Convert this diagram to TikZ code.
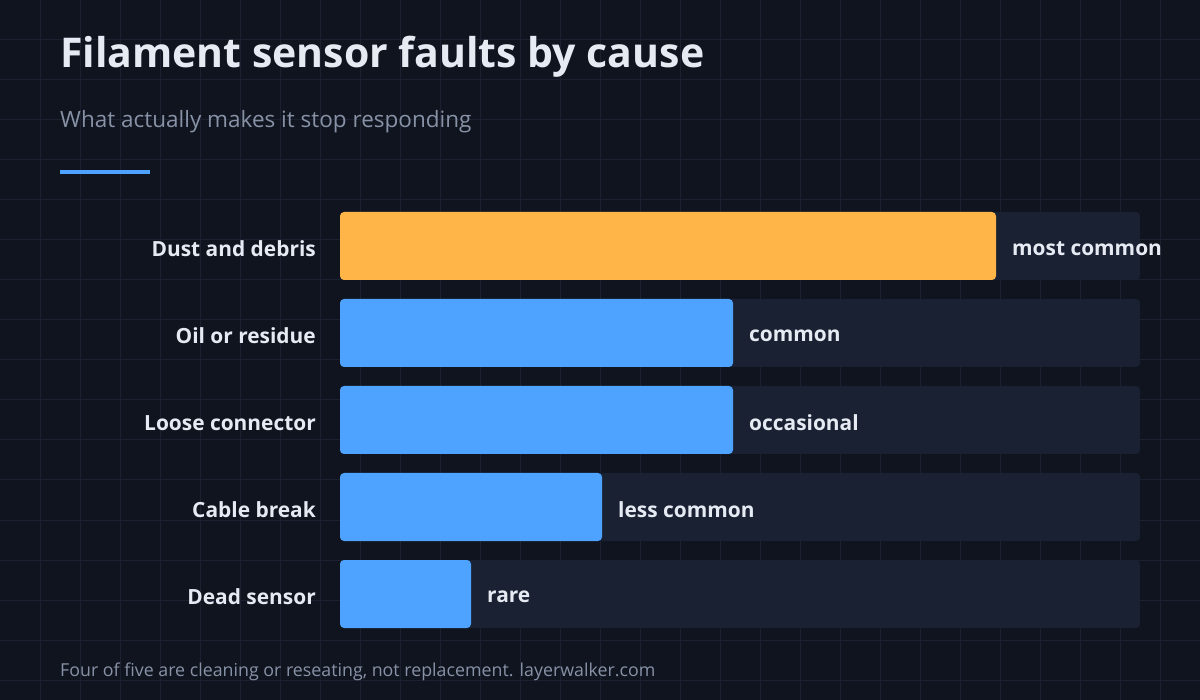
\documentclass[tikz,border=0pt]{standalone}
\usepackage{fontspec}
\setmainfont{Open Sans}
\definecolor{bg}{HTML}{10141F}
\definecolor{gridc}{HTML}{1B2130}
\definecolor{track}{HTML}{1A2133}
\definecolor{orng}{HTML}{FFB547}
\definecolor{blu}{HTML}{4DA3FF}
\definecolor{txt}{HTML}{E6EAF2}
\definecolor{sub}{HTML}{8892A6}
\begin{document}
\begin{tikzpicture}[x=1pt,y=-1pt,
  lab/.style={anchor=east,text=txt,font=\fontsize{20.9}{24}\selectfont\bfseries,inner sep=0},
  val/.style={anchor=west,text=txt,font=\fontsize{20.9}{24}\selectfont\bfseries,inner sep=0},
  trk/.style={fill=track,rounded corners=4pt},
  bar/.style={rounded corners=4pt}]
\fill[bg] (0,0) rectangle (1200,700);
\useasboundingbox (0,0) rectangle (1200,700);
\foreach \i in {40,80,...,1160} \draw[gridc,line width=1pt] (\i,0) -- (\i,700);
\foreach \i in {40,80,...,680} \draw[gridc,line width=1pt] (0,\i) -- (1200,\i);
\node[anchor=west,text=txt,font=\fontsize{41}{48}\selectfont\bfseries,inner sep=0] (title) at (60,57) {Filament sensor faults by cause};
\node[anchor=west,text=sub,font=\fontsize{22.5}{26}\selectfont,inner sep=0] (subt) at (60,122) {What actually makes it stop responding};
\fill[blu] (60,170) rectangle (150,174);
\foreach \y/\e/\c/\l/\v [count=\k] in {212/996/orng/Dust and debris/most common,299/733/blu/Oil or residue/common,386/733/blu/Loose connector/occasional,473/602/blu/Cable break/less common,560/471/blu/Dead sensor/rare}{
  \fill[trk] (340,\y) rectangle (1140,\y+68);
  \fill[bar,\c] (340,\y) rectangle (\e,\y+68);
  \node[lab] (l\k) at (316,\y+37) {\l};
  \node[val] (v\k) at (\e+16,\y+37) {\v};
}
\node[anchor=west,text=sub,font=\fontsize{17.8}{20}\selectfont,inner sep=0] (foot) at (60,672) {Four of five are cleaning or reseating, not replacement. layerwalker.com};
\end{tikzpicture}
\end{document}
